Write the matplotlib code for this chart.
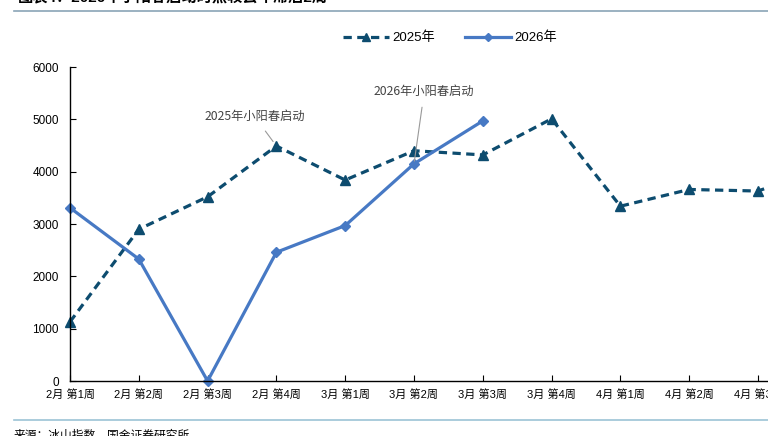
import matplotlib.pyplot as plt
from matplotlib.lines import Line2D

plt.rcParams['font.family'] = ['Liberation Sans', 'Noto Sans CJK SC']

weeks = ["2月 第1周", "2月 第2周", "2月 第3周", "2月 第4周",
         "3月 第1周", "3月 第2周", "3月 第3周", "3月 第4周",
         "4月 第1周", "4月 第2周", "4月 第3周", "4月 第4周"]
y2025 = [1130, 2900, 3520, 4490, 3840, 4400, 4320, 5010, 3340, 3660, 3630, 4100]
y2026 = [3310, 2330, 0, 2460, 2970, 4150, 4970]

c2025 = "#0d4c6f"
c2026 = "#4779c4"

W, H = 768, 436
fig = plt.figure(figsize=(W / 100, H / 100), dpi=100)
ax = fig.add_axes([70 / W, 1 - 381 / H, 11.5 * 68.8 / W, (381 - 67) / H])

x25 = list(range(len(y2025)))
x26 = list(range(len(y2026)))
ax.plot(x25, y2025, color=c2025, lw=2.3, ls=(0, (2.6, 1.7)),
        marker="^", ms=7, label="2025年", clip_on=False)
ax.plot(x26, y2026, color=c2026, lw=2.3, marker="D", ms=5,
        label="2026年", clip_on=False)

ax.set_xlim(0, 11.5)
ax.set_ylim(0, 6000)
ax.set_yticks(range(0, 6001, 1000))
ax.set_xticks(x25)
ax.set_xticklabels(weeks, fontsize=8)
ax.tick_params(axis="y", direction="in", length=4, labelsize=8.5, pad=8)
ax.tick_params(axis="x", direction="in", length=4, pad=6)
for s in ["top", "right"]:
    ax.spines[s].set_visible(False)
ax.spines["left"].set_linewidth(1.0)
ax.spines["bottom"].set_linewidth(1.0)

ann = dict(fontsize=8.8, color="#444444", family=["Noto Sans CJK SC"],
           fontweight="light")
ax.annotate("2025年小阳春启动", xy=(3, y2025[3]), xytext=(2.68, 5060),
            ha="center", va="center",
            arrowprops=dict(arrowstyle="-", color="#999999", lw=0.8,
                            shrinkA=5, shrinkB=4), **ann)
ax.annotate("2026年小阳春启动", xy=(5, y2026[5]), xytext=(5.15, 5540),
            ha="center", va="center",
            arrowprops=dict(arrowstyle="-", color="#999999", lw=0.8,
                            shrinkA=5, shrinkB=2), **ann)

handles = [Line2D([], [], color=c2025, lw=2.3, ls=(0, (2.6, 1.7)), marker="^", ms=6),
           Line2D([], [], color=c2026, lw=2.3, marker="D", ms=4)]
fig.legend(handles, ["2025年", "2026年"], loc="center", bbox_to_anchor=(450 / W, 1 - 38 / H),
           ncol=2, frameon=False, fontsize=9.5, handlelength=3.5, columnspacing=2.2,
           handletextpad=0.3)

# title (cut off at the top) and source line
fig.text(18 / W, 1 - 4 / H, "图表4：2026年小阳春启动时点较去年滞后2周", fontsize=11,
         fontweight="bold", va="bottom", ha="left")
fig.add_artist(Line2D([14 / W, 1], [1 - 11 / H] * 2, color="#8aa4b6", lw=1.2))
fig.add_artist(Line2D([14 / W, 1], [1 - 420 / H] * 2, color="#9cc3d6", lw=1.2))
fig.text(14 / W, 1 - 430 / H, "来源：冰山指数，国金证券研究所", fontsize=8.5,
         va="top", ha="left")

fig.savefig("out.png", dpi=100)
